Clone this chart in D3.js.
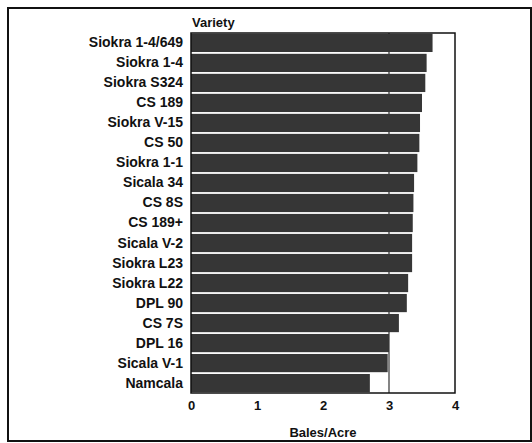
<!DOCTYPE html>
<html>
<head>
<meta charset="utf-8">
<script src="https://cdn.jsdelivr.net/npm/d3@7"></script>
<style>
  body { margin: 0; background: #fff; }
  svg text { font-family: "Liberation Sans", Arial, sans-serif; font-weight: bold; fill: #111; }
</style>
</head>
<body>
<svg width="532" height="443"></svg>
<script>
    // varieties top to bottom, yields in bales/acre
    const varieties = ['Siokra 1-4/649', 'Siokra 1-4', 'Siokra S324', 'CS 189', 'Siokra V-15', 'CS 50',
        'Siokra 1-1', 'Sicala 34', 'CS 8S', 'CS 189+', 'Sicala V-2', 'Siokra L23', 'Siokra L22',
        'DPL 90', 'CS 7S', 'DPL 16', 'Sicala V-1', 'Namcala']
    const yields = [3.66, 3.57, 3.55, 3.50, 3.47, 3.46, 3.43, 3.38, 3.37, 3.36, 3.35, 3.35, 3.29,
        3.27, 3.15, 3.00, 2.98, 2.71]
    const xTicks = [0, 1, 2, 3, 4]
    const refValue = 3

    const margin = {top: 33, left: 191, right: 77, bottom: 50}
    const width = 532 - margin.left - margin.right
    const height = 443 - margin.top - margin.bottom

    const svg = d3.select('svg')

    // outer frame
    svg.append('rect')
        .attr('x', 8).attr('y', 8)
        .attr('width', 523).attr('height', 433)
        .attr('fill', 'none')
        .attr('stroke', '#111')
        .attr('stroke-width', 2)

    const g = svg.append('g').attr('transform', `translate(${margin.left},${margin.top})`)

    const x = d3.scaleLinear([0, 4], [0, width])
    const y = d3.scaleBand(varieties, [0, height]).paddingInner(0.09).paddingOuter(0.04)

    // reference line at 3
    g.append('line')
        .attr('x1', x(refValue)).attr('x2', x(refValue))
        .attr('y1', 0).attr('y2', height)
        .attr('stroke', '#333')
        .attr('stroke-width', 1.2)

    g.selectAll('rect.bar').data(varieties).enter()
        .append('rect')
            .attr('class', 'bar')
            .attr('x', 0)
            .attr('y', d => y(d))
            .attr('width', (d, i) => x(yields[i]))
            .attr('height', y.bandwidth())
            .attr('fill', '#363636')

    // plot box
    g.append('rect')
        .attr('width', width).attr('height', height)
        .attr('fill', 'none')
        .attr('stroke', '#111')
        .attr('stroke-width', 1.5)

    const xAxis = d3.axisBottom(x).tickValues(xTicks).tickFormat(d3.format('d')).tickSize(0).tickPadding(8)
    g.append('g')
        .attr('transform', `translate(0,${height})`)
        .call(xAxis)
        .call(a => a.select('.domain').remove())
        .selectAll('text')
            .style('font-size', '13px')
            .attr('fill', '#111')

    const yAxis = d3.axisLeft(y).tickSize(0).tickPadding(8)
    g.append('g')
        .call(yAxis)
        .call(a => a.select('.domain').remove())
        .selectAll('text')
            .style('font-size', '14px')
            .attr('fill', '#111')

    svg.append('text')
        .attr('x', margin.left + 1)
        .attr('y', 27)
        .style('font-size', '13px')
        .text('Variety')

    svg.append('text')
        .attr('x', margin.left + width / 2)
        .attr('y', 437)
        .attr('text-anchor', 'middle')
        .style('font-size', '13px')
        .text('Bales/Acre')
</script>
</body>
</html>
